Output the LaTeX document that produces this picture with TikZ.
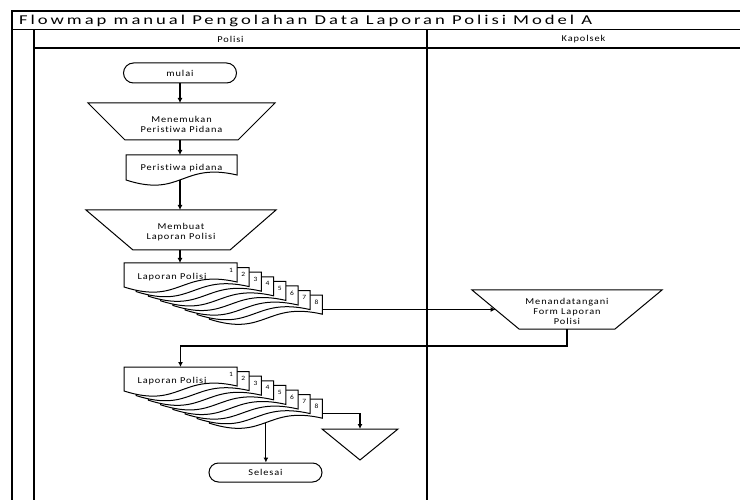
\documentclass[tikz,border=0pt]{standalone}
\usepackage{fontspec}
\setmainfont{Carlito}
\newfontfamily\lblfont{Carlito}[FakeStretch=1.15,LetterSpace=10,Ligatures=NoCommon]
\newfontfamily\ttlfont{Carlito}[FakeStretch=1.38,LetterSpace=22,Ligatures=NoCommon]
\usetikzlibrary{arrows.meta,calc}

\begin{document}
\begin{tikzpicture}[x=1pt,y=-1pt,
  lane/.style={draw=black,line width=1.2pt},
  shp/.style={draw=black,line width=1pt,fill=white},
  flow/.style={draw=black,line width=1.1pt,-{Latex[length=5pt,width=5pt]}},
  lbl/.style={font={\lblfont\fontsize{9}{10}\selectfont},align=center,inner sep=0pt},
  num/.style={font={\lblfont\fontsize{6.5}{7}\selectfont},inner sep=0pt},
  zone/.style 2 args={inner sep=0pt,outer sep=0pt,minimum width=#1pt,minimum height=#2pt},
  terminal/.style 2 args={shp,rounded corners=#2/2,inner sep=0pt,minimum width=#1pt,minimum height=#2pt,
    font={\lblfont\fontsize{9}{10}\selectfont}},
]
\useasboundingbox (0,0) rectangle (740,500);

% swimlane frame
\draw[lane] (12,500) -- (12,11) -- (740,11);
\draw[lane] (12,29.5) -- (740,29.5);
\draw[lane] (34,48) -- (740,48);
\draw[lane] (34,29.5) -- (34,500);
\draw[lane] (427,29.5) -- (427,500);
\node[anchor=west,inner sep=0pt,font={\ttlfont\fontsize{13.5}{16}\selectfont}] (title) at (19,20.5)
  {Flowmap manual Pengolahan Data Laporan Polisi Model A};
\node[lbl] (hpolisi) at (230.5,39) {Polisi};
\node[lbl] (hkapolsek) at (583.5,39) {Kapolsek};

% start
\node[terminal={113}{20}] (start) at (180,73) {mulai};

% manual operation: Menemukan Peristiwa Pidana
\node[zone={187}{37}] (mo1) at (181.5,121.5) {};
\draw[shp] (mo1.north west) -- (mo1.north east) -- ([xshift=-37pt]mo1.south east)
  -- ([xshift=37pt]mo1.south west) -- cycle;
\node[lbl] (mo1t) at (181.5,124) {Menemukan\\Peristiwa Pidana};

% document: Peristiwa pidana
\node[zone={111}{25}] (pid) at (181.5,167.5) {};
\draw[shp] (pid.south west) -- (pid.north west) -- (pid.north east) -- ([yshift=5pt]pid.south east)
  .. controls ([yshift=18pt]pid.south) and ([yshift=-18pt]pid.south) .. (pid.south west) -- cycle;
\node[lbl] (pidt) at (181.5,168) {Peristiwa pidana};

% manual operation: Membuat Laporan Polisi
\node[zone={190}{40}] (mo2) at (181,230) {};
\draw[shp] (mo2.north west) -- (mo2.north east) -- ([xshift=-46pt]mo2.south east)
  -- ([xshift=47pt]mo2.south west) -- cycle;
\node[lbl] (mo2t) at (181,232) {Membuat\\Laporan Polisi};

% stacked documents: Laporan Polisi (1-8)
\foreach \i in {8,7,...,1} {
  \node[zone={113}{24}] (lpa\i) at ({180.5+12.2*(\i-1)},{275+4.6*(\i-1)}) {};
  \draw[shp] (lpa\i.south west) -- (lpa\i.north west) -- (lpa\i.north east) -- ([yshift=5pt]lpa\i.south east)
    .. controls ([yshift=18pt]lpa\i.south) and ([yshift=-18pt]lpa\i.south) .. (lpa\i.south west) -- cycle;
  \node[num] (na\i) at ([xshift=-6pt,yshift=-7pt]lpa\i.north east) {\i};
}
\node[lbl] (lpat) at (172,277) {Laporan Polisi};

% manual operation: Menandatangani Form Laporan Polisi
\node[zone={190}{39}] (mo3) at (567,309.5) {};
\draw[shp] (mo3.north west) -- (mo3.north east) -- ([xshift=-47pt]mo3.south east)
  -- ([xshift=47pt]mo3.south west) -- cycle;
\node[lbl] (mo3t) at (567,311) {Menandatangani\\Form Laporan\\Polisi};
\coordinate (mo3in) at ($(mo3.north west)!0.5!([xshift=47pt]mo3.south west)$);

% stacked documents returned: Laporan Polisi (1-8)
\foreach \i in {8,7,...,1} {
  \node[zone={113}{24}] (lpb\i) at ({180.5+12.2*(\i-1)},{379+4.6*(\i-1)}) {};
  \draw[shp] (lpb\i.south west) -- (lpb\i.north west) -- (lpb\i.north east) -- ([yshift=5pt]lpb\i.south east)
    .. controls ([yshift=18pt]lpb\i.south) and ([yshift=-18pt]lpb\i.south) .. (lpb\i.south west) -- cycle;
  \node[num] (nb\i) at ([xshift=-6pt,yshift=-7pt]lpb\i.north east) {\i};
}
\node[lbl] (lpbt) at (172,381) {Laporan Polisi};

% archive (offline storage)
\node[zone={76}{31}] (arsip) at (360,444.5) {};
\draw[shp] (arsip.north west) -- (arsip.north east) -- (arsip.south) -- cycle;

% end
\node[terminal={113}{19}] (finish) at (265.5,472.5) {Selesai};

% connectors
\draw[flow] (start.south) -- (start.south |- mo1.north);
\draw[flow] (start.south |- mo1.south) -- (start.south |- pid.north);
\draw[flow] (start.south |- pid.south) -- (start.south |- mo2.north);
\draw[flow] (start.south |- mo2.south) -- (start.south |- lpa1.north);
\draw[flow] (mo3in -| lpa8.east) -- (mo3in);
\draw[flow] (mo3.south) -- ++(0,17) -| (lpb1.north);
\draw[flow] ([yshift=-2pt]lpb8.east) -| (arsip.north);
\draw[flow] (lpb8.south) -- (lpb8.south |- finish.north);
\end{tikzpicture}
\end{document}
